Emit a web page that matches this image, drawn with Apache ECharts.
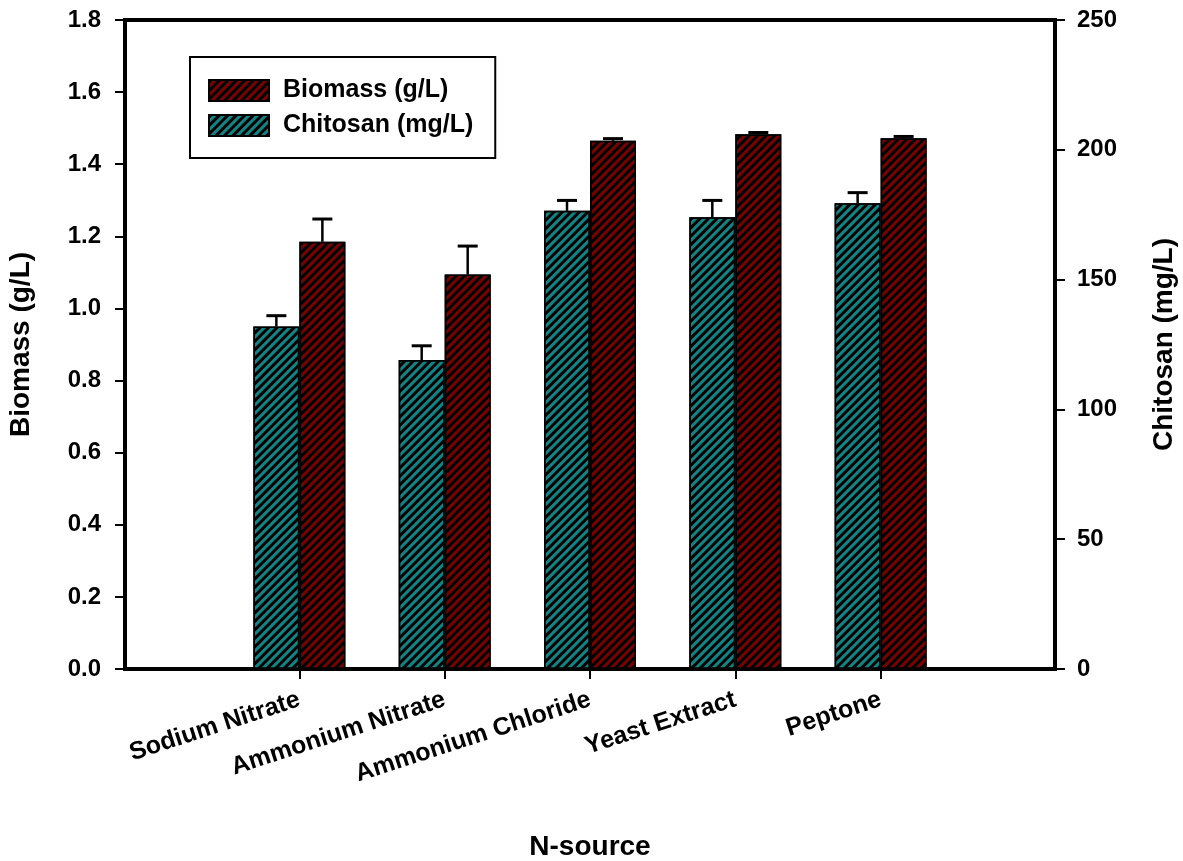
<!DOCTYPE html>
<html>
<head>
<meta charset="utf-8">
<script src="https://cdn.jsdelivr.net/npm/echarts@6/dist/echarts.min.js"></script>
<style>
  html, body { margin: 0; padding: 0; background: #fff; }
  #chart { width: 1183px; height: 861px; }
</style>
</head>
<body>
<div id="chart"></div>
<script>
// Nitrogen sources tested
const categories = ['Sodium Nitrate', 'Ammonium Nitrate', 'Ammonium Chloride', 'Yeast Extract', 'Peptone'];
// Group positions on the x axis
const positions = [1, 2, 3, 4, 5];

// Biomass (g/L), left axis
const biomass = [1.185, 1.094, 1.465, 1.483, 1.472];
const biomassErr = [0.063, 0.079, 0.006, 0.005, 0.005];

// Chitosan (mg/L), right axis
const chitosan = [131.9, 119.0, 176.5, 174.0, 179.4];
const chitosanErr = [4.2, 5.5, 4.0, 6.5, 4.1];

const leftTicks = { min: 0, max: 1.8, interval: 0.2 };
const rightTicks = { min: 0, max: 250, interval: 50 };

const FONT = "'Liberation Sans', Arial, sans-serif";
const BAR_W = 46;

// diagonal black hatching drawn over the bar fill
const hatch = {
  symbol: 'rect',
  symbolSize: 1,
  color: '#000',
  dashArrayX: [1, 0],
  dashArrayY: [3, 3],
  rotation: -Math.PI / 4
};

function errorSeries(name, values, errs, yIndex, side) {
  return {
    type: 'custom',
    name: name + ' err',
    yAxisIndex: yIndex,
    z: 5,
    silent: true,
    data: positions.map((p, i) => [p, values[i], values[i] + errs[i]]),
    renderItem(params, api) {
      const base = api.coord([api.value(0), api.value(1)]);
      const top = api.coord([api.value(0), api.value(2)]);
      const x = base[0] + side * BAR_W / 2;
      const cap = 10;
      return {
        type: 'group',
        children: [
          { type: 'line', shape: { x1: x, y1: base[1], x2: x, y2: top[1] },
            style: { stroke: '#000', lineWidth: 2.5 } },
          { type: 'line', shape: { x1: x - cap, y1: top[1], x2: x + cap, y2: top[1] },
            style: { stroke: '#000', lineWidth: 3 } }
        ]
      };
    }
  };
}

const chart = echarts.init(document.getElementById('chart'));
chart.setOption({
  animation: false,
  backgroundColor: '#fff',
  textStyle: { fontFamily: FONT },
  grid: {
    left: 125, right: 128, top: 20, bottom: 192,
    outerBoundsMode: 'none',
    containLabel: false,
    show: true, borderColor: '#000', borderWidth: 4
  },
  legend: {
    orient: 'vertical',
    left: 190, top: 57,
    data: ['Biomass (g/L)', 'Chitosan (mg/L)'],
    icon: 'rect',
    itemWidth: 60, itemHeight: 21, itemGap: 10,
    borderColor: '#000', borderWidth: 2,
    padding: [21, 22, 20, 18],
    textStyle: { fontFamily: FONT, fontWeight: 'bold', fontSize: 25, color: '#000', padding: [0, 0, 0, 9] }
  },
  xAxis: {
    type: 'value',
    min: -0.2, max: 6.2,
    name: 'N-source',
    nameLocation: 'middle',
    nameGap: 164,
    nameTextStyle: { fontFamily: FONT, fontWeight: 'bold', fontSize: 28, color: '#000' },
    splitLine: { show: false },
    axisLine: { show: true, onZero: false, lineStyle: { color: '#000', width: 4 } },
    axisTick: { show: true, customValues: positions, length: 10, lineStyle: { color: '#000', width: 2 } },
    axisLabel: {
      customValues: positions,
      rotate: 18,
      margin: 30,
      fontFamily: FONT, fontWeight: 'bold', fontSize: 25, color: '#000',
      formatter: v => categories[positions.indexOf(v)] || ''
    }
  },
  yAxis: [
    {
      type: 'value',
      position: 'left',
      min: leftTicks.min, max: leftTicks.max, interval: leftTicks.interval,
      name: 'Biomass (g/L)',
      nameLocation: 'middle',
      nameGap: 90,
      nameRotate: 90,
      nameTextStyle: { fontFamily: FONT, fontWeight: 'bold', fontSize: 28, color: '#000' },
      splitLine: { show: false },
      axisLine: { show: true, onZero: false, lineStyle: { color: '#000', width: 4 } },
      axisTick: { show: true, length: 10, lineStyle: { color: '#000', width: 2 } },
      axisLabel: {
        margin: 24,
        fontFamily: FONT, fontWeight: 'bold', fontSize: 24, color: '#000',
        formatter: v => v.toFixed(1)
      }
    },
    {
      type: 'value',
      position: 'right',
      min: rightTicks.min, max: rightTicks.max, interval: rightTicks.interval,
      name: 'Chitosan (mg/L)',
      nameLocation: 'middle',
      nameGap: 95,
      nameRotate: 90,
      nameTextStyle: { fontFamily: FONT, fontWeight: 'bold', fontSize: 28, color: '#000' },
      splitLine: { show: false },
      axisLine: { show: true, onZero: false, lineStyle: { color: '#000', width: 4 } },
      axisTick: { show: true, length: 10, lineStyle: { color: '#000', width: 2 } },
      axisLabel: {
        margin: 22,
        fontFamily: FONT, fontWeight: 'bold', fontSize: 24, color: '#000'
      }
    }
  ],
  series: [
    {
      name: 'Chitosan (mg/L)',
      type: 'bar',
      yAxisIndex: 1,
      barWidth: BAR_W,
      barGap: '0%',
      data: positions.map((p, i) => [p, chitosan[i]]),
      itemStyle: { color: '#108585', borderColor: '#000', borderWidth: 1.5, decal: hatch }
    },
    {
      name: 'Biomass (g/L)',
      type: 'bar',
      yAxisIndex: 0,
      barWidth: BAR_W,
      barGap: '0%',
      data: positions.map((p, i) => [p, biomass[i]]),
      itemStyle: { color: '#7a0000', borderColor: '#000', borderWidth: 1.5, decal: hatch }
    },
    errorSeries('Chitosan (mg/L)', chitosan, chitosanErr, 1, -1),
    errorSeries('Biomass (g/L)', biomass, biomassErr, 0, 1)
  ]
});
</script>
</body>
</html>
